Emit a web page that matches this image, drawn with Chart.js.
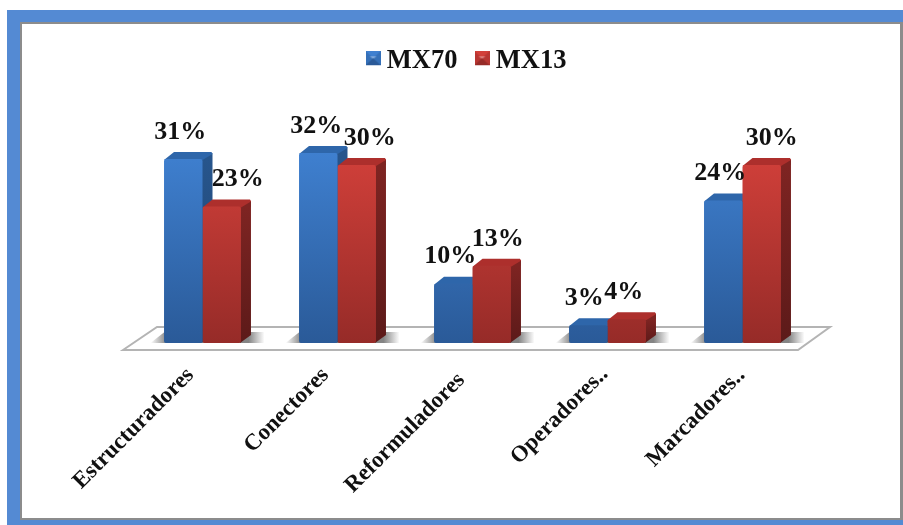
<!DOCTYPE html>
<html lang="es">
<head>
<meta charset="utf-8">
<title>MX70 y MX13</title>
<style>
  html, body { margin: 0; padding: 0; background: #fff; width: 903px; height: 525px; overflow: hidden; }
  #frame { position: absolute; left: 7px; top: 10px; width: 896px; height: 515px; background: #548ad3; }
  #panel { position: absolute; left: 20px; top: 22px; width: 883px; height: 498px; box-sizing: border-box;
           background: #fff; border-style: solid; border-color: #8c8c8c; border-width: 2px 3px 2px 2px; }
  #wrap { position: absolute; left: 0; top: 0; width: 903px; height: 525px; }
</style>
<script src="https://cdn.jsdelivr.net/npm/chart.js@4"></script>
</head>
<body>
<div id="frame"></div>
<div id="panel"></div>
<div id="wrap"><canvas id="chart" width="903" height="525"></canvas></div>
<script>
const categories = ['Estructuradores', 'Conectores', 'Reformuladores', 'Operadores..', 'Marcadores..'];
const seriesNames = ['MX70', 'MX13'];
const mx70 = [31, 32, 10, 3, 24];
const mx13 = [23, 30, 13, 4, 30];

const SERIF = '"Liberation Serif", "Times New Roman", serif';
const DEPTH_X = 10, DEPTH_Y = 7;

const palette = [
  { hi: '#3f80d0', lo: '#2a5a98', top: '#2e66aa', side: '#27558c', sideLo: '#1f4470', mark: '#3570b8' },
  { hi: '#d2403a', lo: '#962b28', top: '#ad2f2c', side: '#7e2422', sideLo: '#5c1a19', mark: '#b83632' }
];

// Horizontal nudges that keep each value label clear of its neighbour.
const labelShift = [
  [-3, -2, -3, -4, -3],
  [16, 13, 6, -3, 10]
];

// Small per-label adjustments of the slanted category names.
const tickShift = [[-12, -3], [-12, -3], [-11, 2], [-3, -4], [-1, -3]];

function frontFill(p) {
  return (ctx) => {
    const area = ctx.chart.chartArea;
    if (!area) return p.hi;
    const g = ctx.chart.ctx.createLinearGradient(0, 150, 0, area.bottom);
    g.addColorStop(0, p.hi);
    g.addColorStop(1, p.lo);
    return g;
  };
}

// Bevelled legend key; the empty strip below it lifts the key to the text's mid-height.
function legendSwatch(p) {
  const c = document.createElement('canvas');
  c.width = 15; c.height = 20;
  const x = c.getContext('2d');
  x.fillStyle = p.mark; x.fillRect(0, 0, 15, 14);
  x.fillStyle = p.hi; x.beginPath(); x.moveTo(0, 0); x.lineTo(15, 0); x.lineTo(7.5, 7); x.fill();
  x.fillStyle = 'rgba(255,255,255,0.35)'; x.beginPath(); x.moveTo(4, 5); x.lineTo(11, 5); x.lineTo(7.5, 8); x.fill();
  x.fillStyle = p.lo; x.beginPath(); x.moveTo(0, 14); x.lineTo(15, 14); x.lineTo(7.5, 7); x.fill();
  return c;
}

function drawExtrusion(ctx, bar, p) {
  const l = bar.x - bar.width / 2, r = bar.x + bar.width / 2;
  const t = bar.y, b = bar.base;
  const side = ctx.createLinearGradient(0, t, 0, b);
  side.addColorStop(0, p.side);
  side.addColorStop(1, p.sideLo);
  ctx.fillStyle = side;
  ctx.beginPath();
  ctx.moveTo(r - 1, t);
  ctx.lineTo(r + DEPTH_X, t - DEPTH_Y + 1);
  ctx.lineTo(r + DEPTH_X, b - DEPTH_Y - 1);
  ctx.lineTo(r - 1, b);
  ctx.closePath();
  ctx.fill();
  ctx.fillStyle = p.top;
  ctx.beginPath();
  ctx.moveTo(l, t + 1);
  ctx.lineTo(l + DEPTH_X, t - DEPTH_Y);
  ctx.lineTo(r + DEPTH_X - 1, t - DEPTH_Y);
  ctx.lineTo(r + DEPTH_X, t - DEPTH_Y + 2);
  ctx.lineTo(r, t + 1);
  ctx.closePath();
  ctx.fill();
}

// Floor slab with soft contact shadows, then the side and top faces of the columns.
const scenePlugin = {
  id: 'scene',
  beforeDatasetsDraw(chart) {
    const { ctx, chartArea: a, scales: { x } } = chart;
    const front = a.bottom + 7, back = a.bottom - 16;
    ctx.save();
    ctx.beginPath();
    ctx.moveTo(a.left - 12, front);
    ctx.lineTo(a.left + 22, back);
    ctx.lineTo(a.right + 20, back);
    ctx.lineTo(a.right - 12, front);
    ctx.closePath();
    ctx.fillStyle = '#ffffff';
    ctx.fill();
    ctx.strokeStyle = '#b4b4b4';
    ctx.lineWidth = 2;
    ctx.stroke();
    categories.forEach((_, i) => {
      const cx = x.getPixelForValue(i);
      const l = cx - 52, r = cx + 62;
      const g = ctx.createLinearGradient(l, 0, r, 0);
      g.addColorStop(0, 'rgba(80,80,80,0)');
      g.addColorStop(0.14, 'rgba(80,80,80,0.7)');
      g.addColorStop(0.86, 'rgba(80,80,80,0.7)');
      g.addColorStop(1, 'rgba(80,80,80,0)');
      ctx.fillStyle = g;
      ctx.beginPath();
      ctx.moveTo(l, a.bottom);
      ctx.lineTo(l + 14, a.bottom - 11);
      ctx.lineTo(r + 14, a.bottom - 11);
      ctx.lineTo(r, a.bottom);
      ctx.closePath();
      ctx.fill();
    });
    chart.data.datasets.forEach((_, d) => {
      chart.getDatasetMeta(d).data.forEach((bar) => drawExtrusion(ctx, bar, palette[d]));
    });
    ctx.restore();
  }
};

// Percentage above every column.
const valueLabelPlugin = {
  id: 'valueLabels',
  afterDatasetsDraw(chart) {
    const { ctx } = chart;
    ctx.save();
    ctx.font = 'bold 26px ' + SERIF;
    ctx.fillStyle = '#111';
    ctx.textAlign = 'center';
    ctx.textBaseline = 'middle';
    chart.data.datasets.forEach((ds, d) => {
      chart.getDatasetMeta(d).data.forEach((bar, i) => {
        ctx.fillText(ds.data[i] + '%', bar.x + labelShift[d][i], bar.y - 27);
      });
    });
    ctx.restore();
  }
};

// Final placement of the legend block and of the slanted category names.
const placementPlugin = {
  id: 'placement',
  afterLayout(chart) {
    const lg = chart.legend;
    lg.left -= 3; lg.right -= 3; lg.top -= 2; lg.bottom -= 2;
    chart.scales.x.getLabelItems().forEach((item, i) => {
      item.options.translation[0] += tickShift[i][0];
      item.options.translation[1] += tickShift[i][1];
    });
  }
};

new Chart(document.getElementById('chart'), {
  type: 'bar',
  data: {
    labels: categories,
    datasets: [
      { label: seriesNames[0], data: mx70, backgroundColor: frontFill(palette[0]) },
      { label: seriesNames[1], data: mx13, backgroundColor: frontFill(palette[1]) }
    ]
  },
  plugins: [scenePlugin, valueLabelPlugin, placementPlugin],
  options: {
    responsive: false,
    animation: false,
    layout: { padding: { left: 135, right: 93, top: 26, bottom: 0 } },
    datasets: { bar: { barPercentage: 1, categoryPercentage: 0.57, borderRadius: 2, borderSkipped: false } },
    plugins: {
      tooltip: { enabled: false },
      legend: {
        position: 'top',
        labels: {
          font: { family: SERIF, size: 26.5, weight: 'bold' },
          color: '#111',
          padding: 24,
          boxWidth: 1,
          boxHeight: 14,
          usePointStyle: true,
          generateLabels(chart) {
            return chart.data.datasets.map((ds, i) => ({
              text: ds.label,
              pointStyle: legendSwatch(palette[i]),
              fillStyle: palette[i].mark,
              strokeStyle: palette[i].mark,
              lineWidth: 0,
              datasetIndex: i,
              fontColor: '#111'
            }));
          }
        }
      }
    },
    scales: {
      x: {
        grid: { display: false, drawTicks: false },
        border: { display: false },
        afterFit(s) { s.height = 182; },
        ticks: {
          autoSkip: false,
          minRotation: 45,
          maxRotation: 45,
          padding: 22,
          color: '#111',
          font: { family: SERIF, size: 23, weight: 'bold' }
        }
      },
      y: {
        display: false,
        min: 0,
        max: 43.2,
        grid: { display: false }
      }
    }
  }
});
</script>
</body>
</html>
